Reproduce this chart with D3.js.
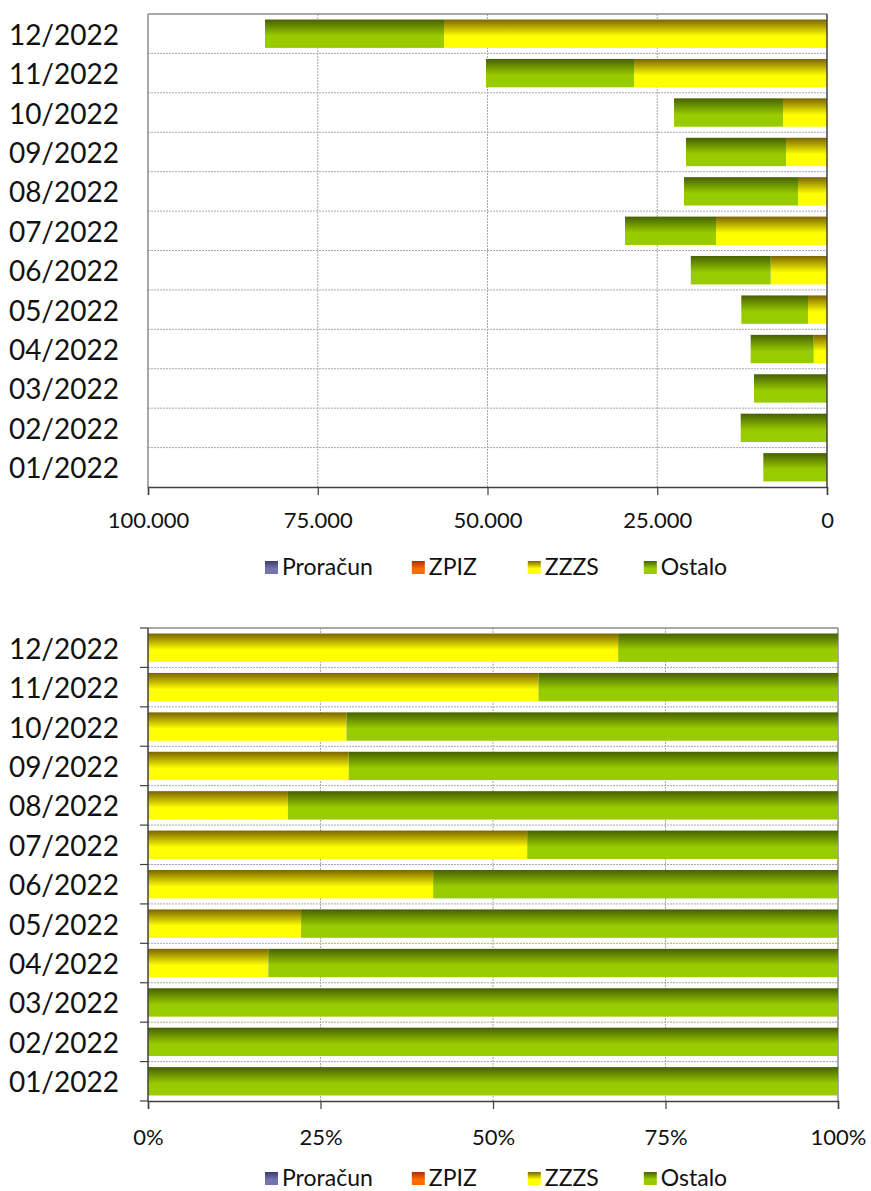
<!DOCTYPE html>
<html>
<head>
<meta charset="utf-8">
<script src="https://cdn.jsdelivr.net/npm/d3@7"></script>
<style>
  body { margin: 0; background: #fff; }
  text { font-family: Lato, "Open Sans", sans-serif; fill: #111; }
</style>
</head>
<body>
<div id="chart"></div>
<script>
// Data (months bottom to top)
const months = ['01/2022', '02/2022', '03/2022', '04/2022', '05/2022', '06/2022',
                '07/2022', '08/2022', '09/2022', '10/2022', '11/2022', '12/2022'];
const seriesNames = ['Proračun', 'ZPIZ', 'ZZZS', 'Ostalo'];
const proracun = [0, 0, 0, 0, 0, 0, 0, 0, 0, 0, 0, 0];
const zpiz = [0, 0, 0, 0, 0, 0, 0, 0, 0, 0, 0, 0];
const zzzs = [0, 0, 0, 1960, 2800, 8290, 16350, 4270, 6040, 6480, 28420, 56400];
const ostalo = [9380, 12710, 10750, 9280, 9820, 11770, 13400, 16790, 14730, 16050, 21800, 26370];
const valueTicks = [0, 25000, 50000, 75000, 100000];
const pctTicks = [0, 0.25, 0.5, 0.75, 1];

const width = 871;
const height = 1191;

// gradient colours per series: [top, bottom]
const colors = {
  'Proračun': ['#3a3a6a', '#7474ac'],
  'ZPIZ': ['#a83200', '#ff6a00'],
  'ZZZS': ['#7a6400', '#ffff00'],
  'Ostalo': ['#466000', '#99cc00']
};

const table = months.map((m, i) => ({
  month: m,
  'Proračun': proracun[i],
  'ZPIZ': zpiz[i],
  'ZZZS': zzzs[i],
  'Ostalo': ostalo[i]
}));

const svg = d3.select('#chart')
  .append('svg')
  .attr('width', width)
  .attr('height', height);

svg.append('rect').attr('width', width).attr('height', height).attr('fill', '#fff');

// gradients
const defs = svg.append('defs');
seriesNames.forEach((name, i) => {
  const g = defs.append('linearGradient')
    .attr('id', 'grad' + i)
    .attr('x1', 0).attr('y1', 0).attr('x2', 0).attr('y2', 1);
  g.append('stop').attr('offset', '0%').attr('stop-color', colors[name][0]);
  g.append('stop').attr('offset', '58%').attr('stop-color', colors[name][1]);
  g.append('stop').attr('offset', '100%').attr('stop-color', colors[name][1]);
});

const numFormat = d3.formatLocale({ decimal: ',', thousands: '.', grouping: [3], currency: ['', ''] }).format(',d');
const pctFormat = d3.format('.0%');

function drawChart(opts) {
  const { top, bottom, left, right, normalized, legendY, labelY } = opts;

  const stack = d3.stack().keys(seriesNames);
  if (normalized) stack.offset(d3.stackOffsetExpand);
  const series = stack(table);

  const x = d3.scaleLinear()
    .domain(normalized ? [0, 1] : [0, 100000])
    .range(normalized ? [left, right] : [right, left]);

  const y = d3.scaleBand()
    .domain(months.slice().reverse())
    .range([top, bottom])
    .paddingInner(0.28)
    .paddingOuter(0.14);

  const ticks = normalized ? pctTicks : valueTicks;
  const g = svg.append('g');

  // horizontal dashed separators between rows
  const step = y.step();
  g.selectAll('.hgrid')
    .data(d3.range(1, months.length))
    .enter()
    .append('line')
    .attr('x1', left).attr('x2', right)
    .attr('y1', i => top + i * step).attr('y2', i => top + i * step)
    .attr('stroke', '#a8a8a8')
    .attr('stroke-dasharray', '2,1');

  // vertical dashed grid
  g.selectAll('.vgrid')
    .data(ticks.filter(t => x(t) > left + 1 && x(t) < right - 1))
    .enter()
    .append('line')
    .attr('x1', d => x(d)).attr('x2', d => x(d))
    .attr('y1', top).attr('y2', bottom)
    .attr('stroke', '#a8a8a8')
    .attr('stroke-dasharray', '2,1');

  // plot border (top and far side)
  g.append('line')
    .attr('x1', left).attr('x2', right).attr('y1', top).attr('y2', top)
    .attr('stroke', '#8c8c8c').attr('stroke-width', 1.5);
  g.append('line')
    .attr('x1', normalized ? right : left).attr('x2', normalized ? right : left)
    .attr('y1', top).attr('y2', bottom)
    .attr('stroke', '#8c8c8c').attr('stroke-width', 1.5);

  // bars
  series.forEach((s, si) => {
    g.append('g')
      .selectAll('rect')
      .data(s)
      .enter()
      .append('rect')
      .attr('x', d => Math.min(x(d[0]), x(d[1])))
      .attr('width', d => Math.abs(x(d[1]) - x(d[0])))
      .attr('y', d => y(d.data.month))
      .attr('height', y.bandwidth())
      .attr('fill', `url(#grad${si})`);
  });

  // category axis line
  const axisX = normalized ? left : right;
  g.append('line')
    .attr('x1', axisX).attr('x2', axisX).attr('y1', top).attr('y2', bottom)
    .attr('stroke', '#404040').attr('stroke-width', 1.5);
  if (normalized) {
    g.selectAll('.ytick')
      .data(d3.range(0, months.length + 1))
      .enter()
      .append('line')
      .attr('x1', left - 8).attr('x2', left)
      .attr('y1', i => top + i * step).attr('y2', i => top + i * step)
      .attr('stroke', '#404040').attr('stroke-width', 1.2);
  }

  // value axis
  const xAxis = d3.axisBottom(x)
    .tickValues(ticks)
    .tickSize(8)
    .tickFormat(normalized ? pctFormat : numFormat);
  const ax = g.append('g')
    .attr('transform', `translate(0,${bottom})`)
    .call(xAxis);
  ax.select('.domain').attr('stroke', '#404040').attr('stroke-width', 1.5);
  ax.selectAll('.tick line').attr('stroke', '#404040').attr('stroke-width', 1.2);
  ax.selectAll('.tick text')
    .attr('y', labelY - bottom)
    .attr('dy', 0)
    .style('font-family', 'Lato, sans-serif')
    .style('font-size', '22px')
    .attr('fill', '#111');

  // category labels
  g.selectAll('.ylabel')
    .data(months)
    .enter()
    .append('text')
    .attr('x', 119)
    .attr('y', d => y(d) + y.bandwidth() / 2 + 11)
    .attr('text-anchor', 'end')
    .style('font-size', '28px')
    .text(d => d);

  // legend
  const legend = g.append('g').attr('transform', `translate(265,${legendY})`);
  let lx = 0;
  seriesNames.forEach((name, i) => {
    const item = legend.append('g').attr('transform', `translate(${lx},0)`);
    item.append('rect')
      .attr('x', 0).attr('y', -6)
      .attr('width', 13).attr('height', 13)
      .attr('fill', `url(#grad${i})`);
    const t = item.append('text')
      .attr('x', 17).attr('y', 8)
      .style('font-size', '23px')
      .text(name);
    const w = t.node().getComputedTextLength();
    lx += 18 + Math.max(w, 60) + 38;
  });
}

// top chart: absolute values, axis reversed
drawChart({ top: 14, bottom: 487, left: 148, right: 827, normalized: false, legendY: 567, labelY: 528 });
// bottom chart: 100% stacked
drawChart({ top: 628, bottom: 1101, left: 148, right: 838, normalized: true, legendY: 1178, labelY: 1145 });
</script>
</body>
</html>
